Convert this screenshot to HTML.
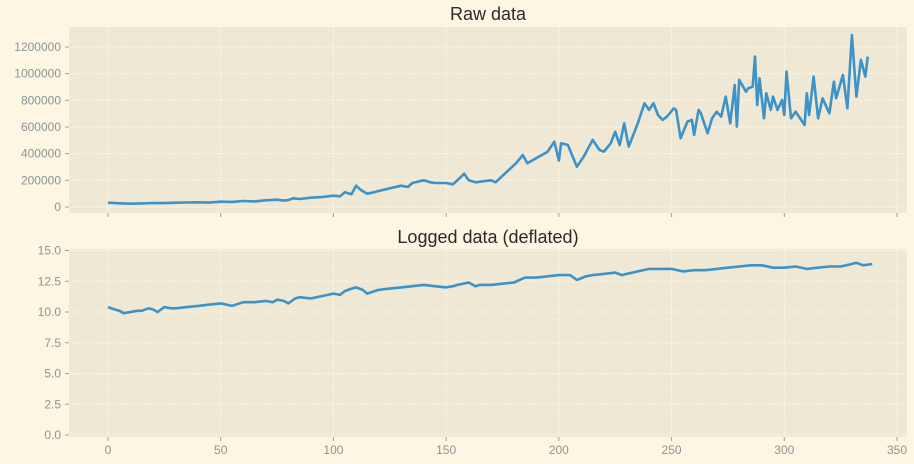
<!DOCTYPE html>
<html><head><meta charset="utf-8"><style>
html,body{margin:0;padding:0;background:#FDF6E3;}
svg{display:block;font-family:"Liberation Sans",sans-serif;}
</style></head><body>
<svg id="fig" width="914" height="464" viewBox="0 0 914 464">
<rect width="914" height="464" fill="#FDF6E3"/>
</svg>
<script>
const rawX=[0,5,10,15,20,25,30,35,40,45,50,55,60,65,70,75,78,80,82,85,90,95,100,103,105,108,110,112,115,118,120,125,130,133,135,140,143,145,150,153,155,158,160,163,165,170,172,174,181,184,186,195,198,200,201,204,208,211,215,218,220,223,225,227,229,231,235,236,238,240,242,244,246,248,251,252,254,257,259,260,262,263,266,268,270,272,274,276,278,279,280,283,284,286,287,288,289,291,292,294,295,297,299,300,301,303,305,309,310,311,313,315,317,320,322,323,326,328,330,332,334,336,337];
const rawV=[32,28,25,27,30,29,32,34,35,33,40,38,45,42,50,55,48,52,65,60,70,75,85,80,110,95,160,130,100,110,120,140,160,150,180,200,185,180,180,170,200,250,200,185,190,200,185,218,328,390,328,415,490,348,478,465,302,378,503,428,415,478,565,465,628,453,628,678,778,728,778,690,653,678,740,728,515,640,653,540,728,703,553,665,715,678,828,628,915,603,953,865,890,903,1128,765,965,665,853,728,828,728,803,690,1015,665,715,615,853,690,978,665,815,703,940,815,990,740,1290,828,1103,978,1128];
const logX=[0,3,5,7,10,13,15,18,20,22,25,28,30,35,40,45,50,55,60,65,70,73,75,78,80,83,85,90,95,100,103,105,108,110,113,115,120,125,130,135,140,145,150,153,155,160,163,165,170,175,180,185,190,195,200,205,208,212,215,220,225,228,230,235,240,245,250,255,260,265,270,275,280,285,290,295,300,305,310,315,320,325,330,332,335,339];
const logV=[10.4,10.2,10.1,9.9,10.0,10.1,10.1,10.3,10.2,10.0,10.4,10.3,10.3,10.4,10.5,10.6,10.7,10.5,10.8,10.8,10.9,10.8,11.0,10.9,10.7,11.1,11.2,11.1,11.3,11.5,11.4,11.7,11.9,12.0,11.8,11.5,11.8,11.9,12.0,12.1,12.2,12.1,12.0,12.1,12.2,12.4,12.1,12.2,12.2,12.3,12.4,12.8,12.8,12.9,13.0,13.0,12.6,12.9,13.0,13.1,13.2,13.0,13.1,13.3,13.5,13.5,13.5,13.3,13.4,13.4,13.5,13.6,13.7,13.8,13.8,13.6,13.6,13.7,13.5,13.6,13.7,13.7,13.9,14.0,13.8,13.9];
const xTicks=[0,50,100,150,200,250,300,350];
const rawTicks=[0,200000,400000,600000,800000,1000000,1200000];
const logTicks=[0,2.5,5,7.5,10,12.5,15];

const NS="http://www.w3.org/2000/svg";
const svg=document.getElementById('fig');
function mk(tag,attrs,parent){const e=document.createElementNS(NS,tag);for(const k in attrs)e.setAttribute(k,attrs[k]);(parent||svg).appendChild(e);return e;}
const X0=69,X1=907;
const xs=v=>108+v*(897-108)/350;

function panel(name,top,bot,yfn,yTicks,fmt,title,titleY,xLabels,xv,yv){
  const g=mk('g',{});
  
  
  const bg=mk('rect',{x:X0,y:top,width:X1-X0,height:bot-top,fill:'#EEE8D5'},g);
  
  
  xTicks.forEach(t=>{
    const l=mk('line',{x1:xs(t),x2:xs(t),y1:top,y2:bot,stroke:'#FDF6E3','stroke-width':1,'stroke-dasharray':'2,1'},g);
    
    
    mk('line',{x1:xs(t),x2:xs(t),y1:bot,y2:bot+4,stroke:'#93A1A1','stroke-width':1},g);
    if(xLabels){
      const tx=mk('text',{x:xs(t),y:bot+17,'text-anchor':'middle','font-size':12,fill:'#8a9696'},g);
      tx.textContent=t;
      
      
    }
  });
  yTicks.forEach(t=>{
    const y=yfn(t);
    const l=mk('line',{x1:X0,x2:X1,y1:y,y2:y,stroke:'#FDF6E3','stroke-width':1,'stroke-dasharray':'2,1'},g);
    
    
    mk('line',{x1:X0-4,x2:X0,y1:y,y2:y,stroke:'#93A1A1','stroke-width':1},g);
    const tx=mk('text',{x:X0-8,y:y+4,'text-anchor':'end','font-size':12,fill:'#8a9696'},g);
    tx.textContent=fmt(t);
    
    
  });
  const d=xv.map((x,i)=>(i?'L':'M')+xs(x).toFixed(1)+','+yfn(yv[i]).toFixed(1)).join('');
  const p=mk('path',{d:d,fill:'none',stroke:'#3D93C8','stroke-width':2.6,'stroke-linejoin':'round'},g);
  
  
  const tt=mk('text',{x:(X0+X1)/2,y:titleY,'text-anchor':'middle','font-size':18,fill:'#2a2a2a'},g);
  tt.textContent=title;
  
  
}
panel('raw-data-panel',27,213,v=>207-v*160/1200000,rawTicks,t=>String(t),'Raw data',20,false,rawX,rawV.map(v=>v*1000));
panel('logged-data-panel',249,437,v=>435-v*(435-250.5)/15,logTicks,t=>t.toFixed(1),'Logged data (deflated)',243,true,logX,logV);
</script>
</body></html>
